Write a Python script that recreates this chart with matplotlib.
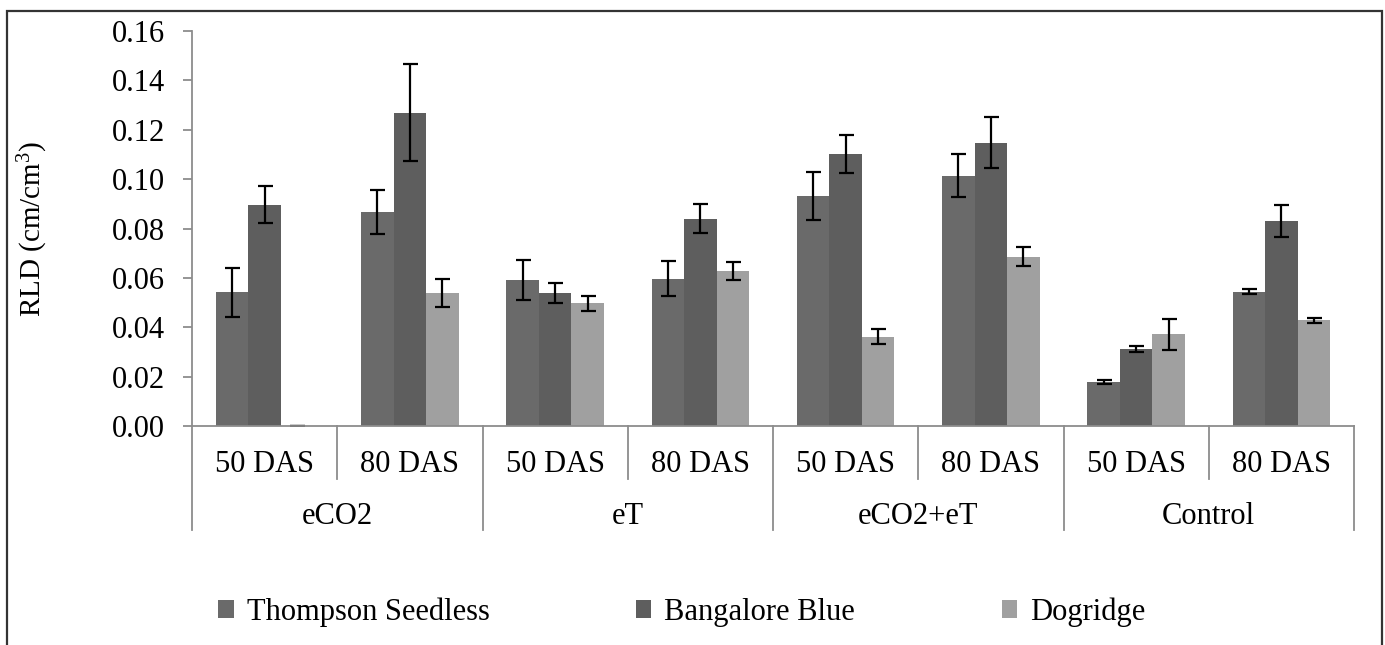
import numpy as np
import matplotlib
matplotlib.use("Agg")
import matplotlib.pyplot as plt
from matplotlib.patches import Rectangle, Patch
import matplotlib.transforms as mtransforms

plt.rcParams['font.family'] = ['Liberation Serif', 'DejaVu Serif']
plt.rcParams['mathtext.default'] = 'regular'

groups = ["eCO2", "eT", "eCO2+eT", "Control"]
stages = ["50 DAS", "80 DAS"]
series = ["Thompson Seedless", "Bangalore Blue", "Dogridge"]

thompson = [0.0542, 0.0867, 0.0591, 0.0597, 0.0932, 0.1014, 0.0180, 0.0544]
thompson_err = [0.0100, 0.0090, 0.0080, 0.0070, 0.0096, 0.0087, 0.0008, 0.0010]
bangalore = [0.0897, 0.1269, 0.0539, 0.0840, 0.1103, 0.1148, 0.0312, 0.0830]
bangalore_err = [0.0075, 0.0196, 0.0040, 0.0060, 0.0077, 0.0104, 0.0013, 0.0065]
dogridge = [0.0, 0.0539, 0.0497, 0.0628, 0.0362, 0.0686, 0.0371, 0.0428]
dogridge_err = [0.0, 0.0055, 0.0030, 0.0035, 0.0030, 0.0038, 0.0064, 0.0011]

colors = ["#6a6a6a", "#5e5e5e", "#a0a0a0"]
yticks = [0.00, 0.02, 0.04, 0.06, 0.08, 0.10, 0.12, 0.14, 0.16]

W, H = 1385, 645
fig = plt.figure(figsize=(W / 100, H / 100), dpi=100)
ax = fig.add_axes([192 / W, 1 - 426 / H, (1354 - 192) / W, (426 - 31) / H])

fs = 22
n = len(groups) * len(stages)
x = np.arange(n)
bw = 0.2236
vals = [thompson, bangalore, dogridge]
errs = [thompson_err, bangalore_err, dogridge_err]
for i, (v, e, c) in enumerate(zip(vals, errs, colors)):
    ax.bar(x + (i - 1) * bw, v, width=bw, color=c, label=series[i],
           yerr=e, error_kw=dict(ecolor='black', elinewidth=1.6, capsize=5.4, capthick=1.6), zorder=2)

ax.set_xlim(-0.5, n - 0.5)
ax.set_ylim(0, 0.16)
ax.set_yticks(yticks)
ax.set_yticklabels([f"{t:.2f}" for t in yticks], fontsize=fs)
ax.set_xticks([])
for s in ['top', 'right']:
    ax.spines[s].set_visible(False)
for s in ['left', 'bottom']:
    ax.spines[s].set_color('#8c8c8c')
    ax.spines[s].set_linewidth(1.3)
ax.tick_params(axis='y', direction='out', length=6.5, width=1.3, color='#8c8c8c', pad=13)
ax.set_ylabel("RLD (cm/cm$^3$)", fontsize=21)
ax.yaxis.set_label_coords((50 - 192) / 1162, 0.5)

trans = mtransforms.blended_transform_factory(ax.transData, ax.transAxes)
ah = 426 - 31
sub_len = 53 / ah
grp_len = 104 / ah
for k in range(n + 1):
    xb = k - 0.5
    L = grp_len if k % 2 == 0 else sub_len
    ax.plot([xb, xb], [0, -L], transform=trans, color='#8c8c8c', lw=1.3, clip_on=False)
for k in range(n):
    ax.text(k, -38 / ah, stages[k % 2], transform=trans, ha='center', va='center', fontsize=fs)
for g, name in enumerate(groups):
    ax.text(2 * g + 0.5, -91 / ah, name, transform=trans, ha='center', va='center', fontsize=fs)

handles = [Patch(facecolor=c, edgecolor='none') for c in colors]
fig.legend(handles, series, loc='center left', bbox_to_anchor=(191 / W, 1 - 612 / H),
           ncol=3, frameon=False, fontsize=fs, handlelength=0.5, handleheight=0.5,
           handletextpad=0.42, columnspacing=4.8)

fig.patches.append(Rectangle((7 / W, -0.1), (1382 - 7) / W, (H - 11) / H + 0.1,
                             transform=fig.transFigure, fill=False, edgecolor='#333333', lw=1.6))

fig.savefig("out.png", dpi=100)
